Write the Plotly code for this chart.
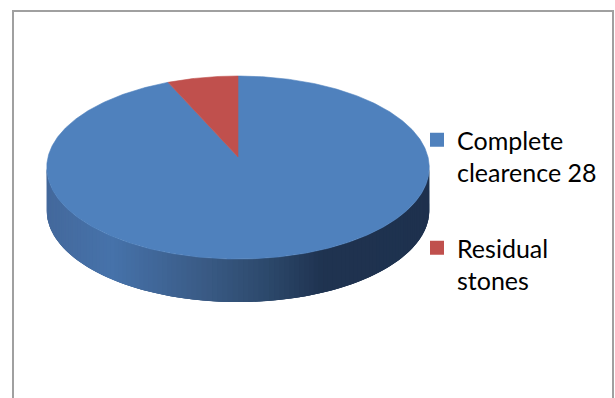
import numpy as np
import plotly.graph_objects as go

# Data
categories = ["Complete<br>clearence 28", "Residual<br>stones"]
values = [28, 2]
top_colors = ["#4F81BD", "#C0504D"]

# Pie geometry (pixels, y downward)
W, H = 615, 398
cx, cy = 238, 157          # projected centre of the top face
A, B = 190, 90.3           # horizontal / depth radii
k = 0.115                  # perspective factor (far side smaller)
depth = 43                 # thickness of the disc


def proj(t_deg, drop=0.0):
    t = np.radians(t_deg)
    x, d = np.sin(t), np.cos(t)
    w = 1 + k * d
    return cx + A * x / w, cy - B * d / w + drop


fig = go.Figure()

# --- side wall with a horizontal shading gradient ---
ts = np.linspace(0, 360, 3601)
sx_all, _ = proj(ts)
t_right = ts[:1800][np.argmax(sx_all[:1800])]
t_left = ts[1800:][np.argmin(sx_all[1800:])]

stops_x = [47, 110, 200, 270, 320, 430]
stops_c = [(0x44, 0x69, 0x9C), (0x46, 0x72, 0xAA), (0x3A, 0x5B, 0x86),
           (0x2B, 0x47, 0x69), (0x1F, 0x33, 0x50), (0x1E, 0x31, 0x4E)]


def side_color(xp):
    rgb = [np.interp(xp, stops_x, [c[i] for c in stops_c]) for i in range(3)]
    return "rgb(%d,%d,%d)" % tuple(int(round(v)) for v in rgb)


def side_poly(a0, a1, n=8):
    tt = np.linspace(a0, a1, n)
    xt, yt = proj(tt)
    xb, yb = proj(tt[::-1], drop=depth)
    return (np.concatenate([xt, xb, xt[:1]]),
            np.concatenate([yt, yb, yt[:1]]), xt)


# base wall underneath the shading strips
bx, by, _ = side_poly(t_right, t_left, 200)
fig.add_trace(go.Scatter(x=bx, y=by, mode="lines", fill="toself",
                         fillcolor=side_color(250), line=dict(width=0),
                         hoverinfo="skip", showlegend=False))

n_strips = 120
edges = np.linspace(t_right, t_left, n_strips + 1)
step = edges[1] - edges[0]
for a0, a1 in zip(edges[:-1], edges[1:]):
    xs, ys, xt = side_poly(a0, min(a1 + step, t_left))
    col = side_color(float(np.mean(xt)))
    fig.add_trace(go.Scatter(x=xs, y=ys, mode="lines", fill="toself",
                             fillcolor=col, line=dict(width=0),
                             hoverinfo="skip", showlegend=False))

# --- top face slices (clockwise from 12 o'clock) ---
total = sum(values)
start = 0.0
for name, v, col in zip(categories, values, top_colors):
    span = 360.0 * v / total
    tt = np.linspace(start, start + span, max(int(span * 2), 4))
    xa, ya = proj(tt)
    xs = np.concatenate([[cx], xa, [cx]])
    ys = np.concatenate([[cy], ya, [cy]])
    fig.add_trace(go.Scatter(x=xs, y=ys, mode="lines", fill="toself",
                             fillcolor=col, line=dict(color=col, width=0.6),
                             hoverinfo="skip", showlegend=False))
    start += span

# --- legend entries ---
for i, (name, col) in enumerate(zip(categories, top_colors)):
    fig.add_trace(go.Scatter(x=[None], y=[None], mode="markers", name=name,
                             legendgroup="g%d" % i,
                             marker=dict(symbol="square", size=14, color=col)))

fig.update_layout(
    width=W, height=H,
    margin=dict(l=0, r=0, t=0, b=0),
    paper_bgcolor="white", plot_bgcolor="white",
    xaxis=dict(range=[0, W], visible=False, fixedrange=True),
    yaxis=dict(range=[H, 0], visible=False, fixedrange=True),
    showlegend=True,
    legend=dict(x=417 / W, y=1 - 117 / H, xanchor="left", yanchor="top",
                font=dict(family="Lato", size=25, color="black"),
                valign="top", tracegroupgap=40, bgcolor="rgba(0,0,0,0)",
                itemclick=False, itemdoubleclick=False),
    shapes=[dict(type="rect", xref="paper", yref="paper",
                 x0=13 / W, x1=613 / W, y0=-0.05, y1=1 - 11 / H,
                 line=dict(color="#A0A0A0", width=2))],
)

fig.write_html("out.html")
